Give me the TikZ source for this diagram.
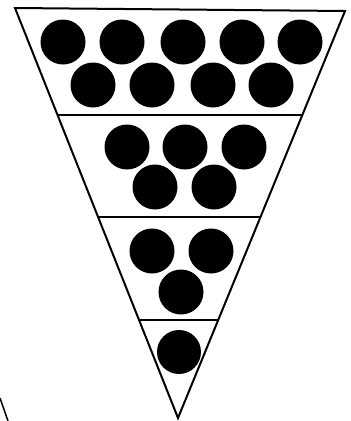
\documentclass[tikz,border=0pt]{standalone}
\begin{document}
\begin{tikzpicture}[x=1pt,y=-1pt,
  edge/.style={line width=2pt,line join=miter},
  divider/.style={line width=2.6pt},
  ball/.style={circle,fill=black,minimum size=45pt,inner sep=0pt}]
\useasboundingbox[fill=white] (0,0) rectangle (351,421);
% triangle
\coordinate (tl) at (15,8);
\coordinate (tr) at (345,11);
\coordinate (ap) at (178,418);
\draw[edge] (tl) -- (tr) -- (ap) -- cycle;
% dividers
\coordinate (d1l) at (58,115); \coordinate (d1r) at (303,115);
\coordinate (d2l) at (99,217); \coordinate (d2r) at (261,217);
\coordinate (d3l) at (140,320); \coordinate (d3r) at (219,320);
\draw[divider] (d1l) -- (d1r);
\draw[divider] (d2l) -- (d2r);
\draw[divider] (d3l) -- (d3r);
% section 1
\foreach \x [count=\i] in {63,122,183,242,300} \node[ball] (a\i) at (\x,42) {};
\foreach \x [count=\i] in {93,152,213,271} \node[ball] (b\i) at (\x,85) {};
% section 2
\foreach \x [count=\i] in {127,185,244} \node[ball] (c\i) at (\x,147) {};
\foreach \x [count=\i] in {155,214} \node[ball] (d\i) at (\x,187) {};
% section 3
\foreach \x [count=\i] in {152,211} \node[ball] (e\i) at (\x,251) {};
\node[ball] (f1) at (181,292) {};
% section 4
\node[ball,minimum size=44pt] (g1) at (179,352) {};
% stray mark
\coordinate (s1) at (0,398); \coordinate (s2) at (8,421);
\draw[line width=1.5pt] (s1) -- (s2);
\end{tikzpicture}
\end{document}
